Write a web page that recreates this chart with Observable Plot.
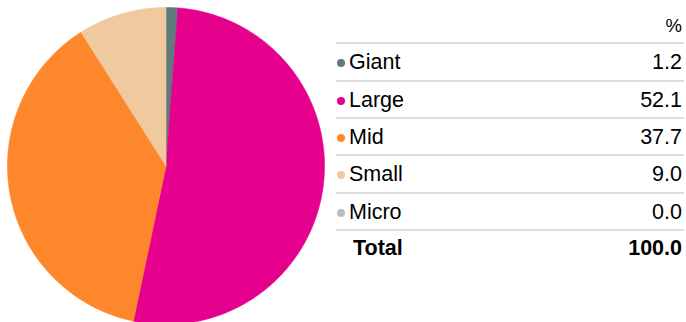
<!DOCTYPE html>
<html>
<head>
<meta charset="utf-8">
<script src="https://cdn.jsdelivr.net/npm/d3@7"></script>
<script src="https://cdn.jsdelivr.net/npm/@observablehq/plot@0.6"></script>
<style>
  html, body { margin: 0; padding: 0; background: #fff; }
  body { width: 686px; height: 322px; position: relative; overflow: hidden;
         font-family: "Liberation Sans", Arial, sans-serif; color: #000; }
  #pie { position: absolute; left: 0; top: 0; }
  .rule { position: absolute; left: 336px; width: 348px; height: 2px; background: #dcdcdc; }
  .lab { position: absolute; left: 349px; font-size: 21.5px; line-height: 37px; white-space: nowrap; }
  .val { position: absolute; right: 4px; font-size: 21.5px; line-height: 37px; text-align: right; white-space: nowrap; }
  .dot { position: absolute; left: 337px; width: 8px; height: 8px; border-radius: 50%; }
  .bold { font-weight: bold; }
  .hdr { position: absolute; right: 4px; top: 11px; font-size: 18.5px; line-height: 30px; }
</style>
</head>
<body>
<div id="pie"></div>
<div id="table"></div>
<script>
const categories = ["Giant", "Large", "Mid", "Small", "Micro"];
const values = [1.2, 52.1, 37.7, 9.0, 0.0];
const colors = ["#5e7a79", "#e5008d", "#ff872b", "#f0c99e", "#bcbebe"];
const totalLabel = "Total";
const totalValue = 100.0;
const headerLabel = "%";

// Build slice polygons in unit-circle data space (angles from 12 o'clock, clockwise)
const sum = d3.sum(values);
const pts = [];
let acc = 0;
categories.forEach((c, i) => {
  const v = values[i];
  if (v <= 0) { return; }
  const a0 = acc / sum * 2 * Math.PI;
  const a1 = (acc + v) / sum * 2 * Math.PI;
  acc += v;
  pts.push({cat: c, x: 0, y: 0});
  const n = Math.max(2, Math.ceil((a1 - a0) / (Math.PI / 360)));
  for (let k = 0; k <= n; k++) {
    const a = a0 + (a1 - a0) * k / n;
    pts.push({cat: c, x: Math.sin(a), y: Math.cos(a)});
  }
  pts.push({cat: c, x: 0, y: 0});
});

const pie = Plot.plot({
  width: 332,
  height: 322,
  margin: 0,
  x: {domain: [-1, 1], range: [7, 324], axis: null},
  y: {domain: [-1, 1], range: [324, 7], axis: null},
  color: {domain: categories, range: colors},
  marks: [
    Plot.line(pts, {x: "x", y: "y", z: "cat", fill: "cat", stroke: "cat", strokeWidth: 0.6, curve: "linear"})
  ]
});
document.getElementById("pie").append(pie);

// Table
const table = document.getElementById("table");
const top0 = 42.3, rowH = 37.35;
const hdr = document.createElement("div");
hdr.className = "hdr"; hdr.textContent = headerLabel;
table.append(hdr);
for (let i = 0; i <= categories.length; i++) {
  const r = document.createElement("div");
  r.className = "rule";
  r.style.top = (top0 + i * rowH) + "px";
  table.append(r);
}
categories.forEach((c, i) => {
  const y = top0 + i * rowH + 2;
  const dot = document.createElement("div");
  dot.className = "dot";
  dot.style.top = (y + 15) + "px";
  dot.style.background = colors[i];
  table.append(dot);
  const lab = document.createElement("div");
  lab.className = "lab"; lab.style.top = y + "px"; lab.textContent = c;
  table.append(lab);
  const val = document.createElement("div");
  val.className = "val"; val.style.top = y + "px"; val.textContent = values[i].toFixed(1);
  table.append(val);
});
{
  const y = top0 + categories.length * rowH + 1;
  const lab = document.createElement("div");
  lab.className = "lab bold"; lab.style.top = y + "px"; lab.style.left = "353px"; lab.textContent = totalLabel;
  table.append(lab);
  const val = document.createElement("div");
  val.className = "val bold"; val.style.top = y + "px"; val.textContent = totalValue.toFixed(1);
  table.append(val);
}
</script>
</body>
</html>
